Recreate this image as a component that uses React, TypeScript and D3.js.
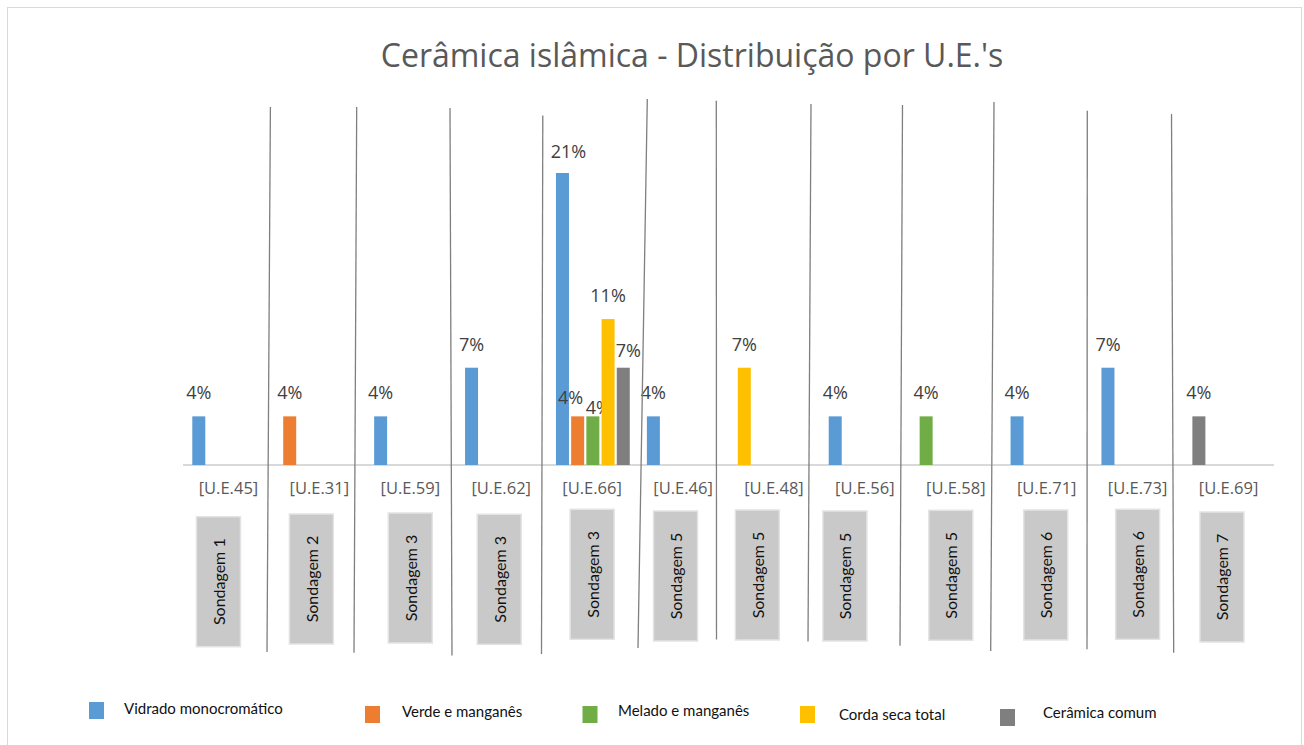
import React from "react";
import * as d3 from "d3";

// ---- data ----
const categories = ["[U.E.45]", "[U.E.31]", "[U.E.59]", "[U.E.62]", "[U.E.66]", "[U.E.46]", "[U.E.48]", "[U.E.56]", "[U.E.58]", "[U.E.71]", "[U.E.73]", "[U.E.69]"];
const sondagens = ["Sondagem 1", "Sondagem 2", "Sondagem 3", "Sondagem 3", "Sondagem 3", "Sondagem 5", "Sondagem 5", "Sondagem 5", "Sondagem 5", "Sondagem 6", "Sondagem 6", "Sondagem 7"];
const seriesNames = ["Vidrado monocromático", "Verde e manganês", "Melado e manganês", "Corda seca total", "Cerâmica comum"];
const vidrado = [0.0357, 0, 0.0357, 0.0714, 0.2143, 0.0357, 0, 0.0357, 0, 0.0357, 0.0714, 0];
const verde = [0, 0.0357, 0, 0, 0.0357, 0, 0, 0, 0, 0, 0, 0];
const melado = [0, 0, 0, 0, 0.0357, 0, 0, 0, 0.0357, 0, 0, 0];
const corda = [0, 0, 0, 0, 0.1071, 0, 0.0714, 0, 0, 0, 0, 0];
const comum = [0, 0, 0, 0, 0.0714, 0, 0, 0, 0, 0, 0, 0.0357];
const seriesValues = [vidrado, verde, melado, corda, comum];

// ---- styles / annotation layout ----
const colors = ["#5b9bd5", "#ed7d31", "#70ad47", "#ffc000", "#7f7f7f"];
// manual nudges of a few data labels in [U.E.66] (key: "cat-series")
const labelNudge: Record<string, [number, number]> = {
  "4-0": [6, 2],
  "4-1": [-7, 5],
  "4-2": [5.5, 15],
  "4-4": [5, 6],
};
// hand-drawn separator lines [x1, y1, x2, y2]
const separators: [number, number, number, number][] = [
  [270.4, 107, 267, 652],
  [356.7, 107, 354, 652.7],
  [450, 108, 452, 655.5],
  [542.8, 115.5, 541.5, 654],
  [647.3, 99, 638, 648],
  [716.3, 100.7, 716.5, 639.5],
  [811, 104, 808, 641.5],
  [902.5, 105, 900, 645.7],
  [994, 102, 990.7, 651],
  [1087.3, 110.7, 1087, 649.3],
  [1171.5, 114, 1173.7, 652.7],
];
const boxNudgeX = [-10, -8, 0, -2, 0, -7.5, -16.6, -20, -5, -1, 0, -6.6];
const boxTop = [516.7, 514, 513, 514.3, 509.3, 511, 510, 511, 510.3, 510, 509.3, 512];
const legendSwatch: [number, number][] = [[89, 702], [365, 706], [582.5, 706], [800, 706], [1000, 709]];
const legendText: [number, number][] = [[124, 714], [402, 717], [618, 715.5], [839, 720], [1043, 717.5]];

const W = 1304;
const H = 745;

export default function App() {
  const x = d3.scaleBand<string>().domain(categories).range([183, 1274]).padding(0);
  const inner = d3.scaleBand<number>().domain(d3.range(5)).range([9.3, 83.1]).paddingInner(0.145);
  const y = d3.scaleLinear().domain([0, 0.25]).range([465, 465 - 0.25 * 1362.6]);
  const fmt = d3.format(".0%");

  const bars: { key: string; x: number; w: number; y0: number; y1: number; color: string; label: string; nudge: [number, number] }[] = [];
  categories.forEach((c, ci) => {
    let slot = 0;
    seriesValues.forEach((vals, si) => {
      const v = vals[ci];
      if (!v) return;
      const bx = (x(c) as number) + (inner(slot) as number);
      bars.push({
        key: `${ci}-${si}`,
        x: bx,
        w: inner.bandwidth(),
        y0: y(0),
        y1: y(v),
        color: colors[si],
        label: fmt(v),
        nudge: labelNudge[`${ci}-${si}`] || [0, 0],
      });
      slot++;
    });
  });

  return (
    <svg width={W} height={H} style={{ position: "absolute", left: 0, top: 0, background: "#fff" }}>
      <rect x={0} y={0} width={W} height={H} fill="#fff" />
      <rect x={7.5} y={7.5} width={1294} height={780} fill="none" stroke="#d9d9d9" strokeWidth={1} />
      <text x={692} y={67} textAnchor="middle" fontFamily="'Open Sans', sans-serif" fontSize={32} fill="#595959">
        Cerâmica islâmica - Distribuição por U.E.'s
      </text>

      {/* axis baseline */}
      <line x1={x.range()[0]} x2={x.range()[1]} y1={y(0)} y2={y(0)} stroke="#d9d9d9" strokeWidth={2} />

      {bars.map((b) => (
        <g key={b.key}>
          <rect x={b.x} y={b.y1} width={b.w} height={b.y0 - b.y1} fill={b.color} />
          <text
            x={b.x + b.w / 2 + b.nudge[0]}
            y={b.y1 - 17 + b.nudge[1]}
            textAnchor="middle"
            fontFamily="'Open Sans', sans-serif"
            fontSize={18}
            fill="#404040"
          >
            {b.label}
          </text>
        </g>
      ))}

      {categories.map((c) => (
        <text
          key={c}
          x={(x(c) as number) + x.bandwidth() / 2}
          y={494}
          textAnchor="middle"
          fontFamily="'Open Sans', sans-serif"
          fontSize={16.5}
          fill="#595959"
        >
          {c}
        </text>
      ))}

      {sondagens.map((s, i) => {
        const cx = (x(categories[i]) as number) + x.bandwidth() / 2 + boxNudgeX[i];
        const top = boxTop[i];
        return (
          <g key={i}>
            <rect x={cx - 22} y={top} width={44} height={130} fill="#c9c9c9" stroke="#e3e3e3" strokeWidth={1.5} />
            <text
              transform={`translate(${cx},${top + 65}) rotate(-90)`}
              textAnchor="middle"
              dominantBaseline="central"
              fontFamily="Lato, sans-serif"
              fontSize={16}
              fill="#111"
            >
              {s}
            </text>
          </g>
        );
      })}

      {separators.map((s, i) => (
        <line key={i} x1={s[0]} y1={s[1]} x2={s[2]} y2={s[3]} stroke="#7f7f7f" strokeWidth={1.3} />
      ))}

      {seriesNames.map((n, i) => (
        <g key={n}>
          <rect x={legendSwatch[i][0]} y={legendSwatch[i][1]} width={15} height={17} fill={colors[i]} />
          <text x={legendText[i][0]} y={legendText[i][1]} fontFamily="Lato, sans-serif" fontSize={15} fill="#111">
            {n}
          </text>
        </g>
      ))}
    </svg>
  );
}
